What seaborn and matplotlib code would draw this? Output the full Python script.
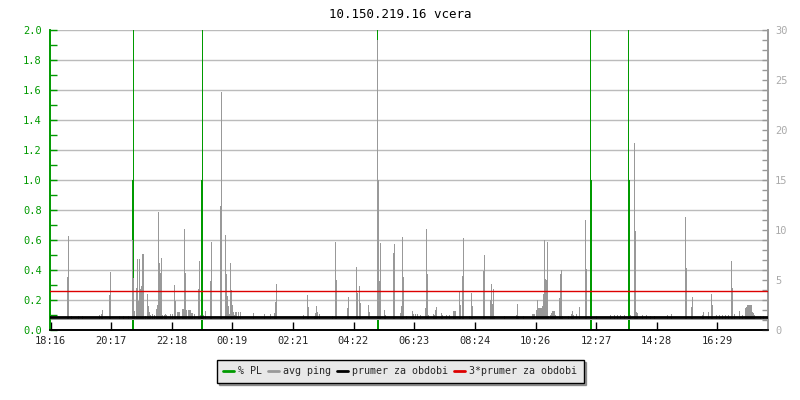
import numpy as np
import seaborn as sns
import matplotlib.pyplot as plt
from matplotlib.lines import Line2D
from matplotlib.ticker import MultipleLocator

# --- data (one sample every 2 minutes, starting 18:16) ---
TITLE = '10.150.219.16 vcera'
N_SAMPLES = 718
STEP_MIN = 2
BASE_MS = 1.15          # quiet ping level
FLOOR_MS = 1.0          # lowest ping seen (bars start here)
MEAN_MS = 1.29          # prumer za obdobi

TICK_MIN = [0, 121, 242, 363, 485, 606, 727, 848, 970, 1091, 1212, 1333]
TICK_LABELS = ['18:16', '20:17', '22:18', '00:19', '02:21', '04:22',
               '06:23', '08:24', '10:26', '12:27', '14:28', '16:29']

# packet loss samples (%)
PL_IDX = [82, 83, 151, 152, 327, 328, 540, 541, 578, 579]
PL_VAL = [1.0, 3.0, 1.0, 3.0, 3.0, 1.0, 3.0, 1.0, 3.0, 1.0]

# ping samples above the quiet level (ms)
SPIKE_IDX = [17, 18, 21, 28, 32, 49, 51, 52, 59, 60, 69, 73, 78, 82, 83, 84, 86, 87, 88, 89,
             90, 91, 92, 93, 95, 97, 98, 99, 100, 102, 104, 106, 107, 108, 109, 110, 111, 112, 114, 115,
             116, 120, 122, 124, 125, 127, 128, 129, 132, 133, 134, 135, 136, 138, 139, 140, 141, 142, 144, 148,
             149, 150, 153, 155, 160, 161, 170, 171, 175, 176, 177, 178, 179, 180, 181, 182, 183, 184, 185, 186,
             188, 190, 203, 214, 220, 224, 225, 226, 253, 257, 258, 264, 265, 266, 267, 269, 282, 285, 286, 297,
             298, 306, 307, 309, 310, 318, 319, 327, 328, 329, 330, 334, 335, 343, 344, 350, 351, 352, 353, 356,
             362, 363, 365, 367, 370, 375, 376, 377, 378, 383, 384, 385, 386, 391, 392, 396, 399, 403, 404, 405,
             409, 410, 412, 413, 419, 421, 422, 433, 434, 440, 441, 442, 443, 444, 454, 466, 467, 468, 473, 482,
             483, 484, 486, 487, 488, 489, 490, 491, 492, 493, 494, 495, 496, 497, 498, 500, 501, 502, 503, 504,
             505, 509, 510, 511, 512, 518, 521, 522, 523, 526, 529, 535, 536, 546, 560, 564, 567, 570, 574, 580,
             584, 585, 586, 587, 592, 596, 600, 604, 617, 621, 635, 636, 641, 642, 652, 653, 658, 661, 662, 666,
             669, 672, 675, 678, 681, 682, 684, 689, 692, 695, 696, 697, 698, 699, 700, 701, 702, 703, 704, 710,
             713]
SPIKE_MS = [5.3, 9.4, 1.4, 1.4, 1.4, 1.5, 1.6, 2.0, 3.5, 5.8, 1.4, 1.4, 1.4, 9.0, 5.2, 1.9, 4.2, 7.1, 2.9, 7.1,
            4.1, 4.4, 7.6, 7.6, 1.4, 3.6, 2.4, 1.8, 1.5, 1.6, 1.5, 2.1, 2.5, 11.8, 6.7, 5.7, 7.2, 1.5, 1.5, 1.6,
            1.5, 1.6, 1.6, 4.5, 2.9, 1.8, 1.8, 1.8, 2.1, 2.1, 10.1, 5.7, 2.0, 2.0, 2.0, 2.0, 1.7, 1.7, 1.6, 4.1,
            6.9, 1.5, 1.5, 1.9, 4.9, 8.8, 12.4, 23.8, 9.5, 5.6, 3.4, 2.4, 1.6, 6.7, 4.0, 2.5, 1.8, 1.5, 1.8, 1.8,
            1.8, 1.8, 1.7, 1.6, 1.6, 1.7, 2.8, 4.6, 1.5, 3.5, 2.3, 1.4, 1.7, 2.4, 1.8, 1.6, 1.4, 8.8, 5.0, 2.2,
            3.3, 6.3, 3.7, 4.4, 2.7, 2.5, 1.8, 29.0, 15.0, 4.9, 8.7, 2.0, 1.5, 7.7, 8.6, 1.7, 2.4, 9.3, 5.3, 1.4,
            1.9, 1.6, 1.6, 1.6, 1.5, 2.2, 10.1, 5.6, 1.5, 1.6, 1.5, 2.0, 2.3, 1.7, 1.5, 1.5, 1.5, 1.9, 1.9, 1.9,
            3.8, 2.5, 5.4, 9.2, 1.4, 3.7, 2.4, 5.9, 7.5, 3.0, 4.6, 2.6, 4.1, 1.4, 1.4, 1.5, 2.6, 1.4, 1.4, 1.6,
            1.6, 1.6, 2.0, 3.0, 2.2, 2.2, 2.2, 2.2, 2.4, 3.6, 9.0, 5.1, 5.0, 8.8, 1.4, 1.5, 1.7, 1.9, 1.9, 1.9,
            1.5, 3.2, 5.6, 6.0, 1.4, 1.4, 1.6, 1.9, 1.5, 1.6, 2.3, 11.0, 6.1, 1.4, 1.5, 1.5, 1.5, 1.5, 1.5, 1.5,
            18.7, 9.9, 1.8, 1.7, 1.5, 1.5, 1.4, 1.4, 1.5, 1.6, 11.3, 6.2, 2.3, 3.3, 1.5, 1.8, 1.8, 3.6, 2.5, 1.5,
            1.5, 1.5, 1.5, 1.5, 6.9, 4.2, 1.6, 1.9, 1.5, 2.2, 2.3, 2.5, 2.5, 2.5, 2.5, 2.5, 1.8, 1.7, 1.5, 1.4,
            1.4]

GREEN = '#009a00'
GREY = '#999999'
RED = '#dd0000'

# --- build series ---
t_min = np.arange(N_SAMPLES) * STEP_MIN
ping = np.full(N_SAMPLES, BASE_MS)
ping[SPIKE_IDX] = SPIKE_MS
pl = np.zeros(N_SAMPLES)
pl[PL_IDX] = PL_VAL

sns.set_theme(style='white')
plt.rcParams['font.family'] = ['DejaVu Sans Mono', 'DejaVu Sans']

fig = plt.figure(figsize=(8, 4), dpi=100)
ax = fig.add_axes([50 / 800, 70 / 400, 718 / 800, 300 / 400])
ax2 = ax.twinx()

# packet loss (left axis)
ax.bar(t_min, pl, width=STEP_MIN, color=GREEN, linewidth=0, align='center', antialiased=False)
ax.set_ylim(0, 2.0)
ax.set_xlim(-1, N_SAMPLES * STEP_MIN - 1)
ax.yaxis.set_major_locator(MultipleLocator(0.2))
ax.yaxis.set_minor_locator(MultipleLocator(0.1))
ax.yaxis.set_major_formatter(plt.FuncFormatter(lambda v, p: f'{v:.1f}'))
ax.grid(axis='y', which='major', color='#bbbbbb', linewidth=1)
ax.set_axisbelow(True)
ax.tick_params(axis='y', which='both', direction='in', length=5, width=1,
               color=GREEN, labelcolor=GREEN, labelsize=7.5, left=True, pad=6)
ax.set_xticks(TICK_MIN)
ax.set_xticklabels(TICK_LABELS)
ax.tick_params(axis='x', direction='in', length=6, width=1, color='black',
               labelsize=7.5, bottom=True, pad=4)

# ping (right axis)
ax2.bar(t_min, ping - FLOOR_MS, bottom=FLOOR_MS, width=STEP_MIN, color=GREY,
        linewidth=0, align='center', antialiased=False)
ax2.axhline(MEAN_MS, color='black', linewidth=2, zorder=5)
ax2.axhline(3 * MEAN_MS, color=RED, linewidth=1, zorder=5)
ax2.set_ylim(0, 30)
ax2.yaxis.set_major_locator(MultipleLocator(5))
ax2.yaxis.set_minor_locator(MultipleLocator(1))
ax2.tick_params(axis='y', which='both', direction='in', length=4, width=1,
                color=GREY, labelcolor='#aaaaaa', labelsize=7.5, right=True, pad=5)

for a in (ax, ax2):
    a.spines['top'].set_visible(False)
    a.spines['left'].set_color(GREEN)
    a.spines['left'].set_linewidth(1.2)
    a.spines['right'].set_color(GREY)
    a.spines['bottom'].set_color('black')
    a.spines['bottom'].set_linewidth(1.2)

fig.text(0.5, 1 - 14 / 400, TITLE, ha='center', va='center', fontsize=9, color='black')

handles = [Line2D([], [], color=GREEN, lw=2),
           Line2D([], [], color=GREY, lw=2),
           Line2D([], [], color='black', lw=2),
           Line2D([], [], color=RED, lw=2)]
labels = ['% PL', 'avg ping', 'prumer za obdobi', '3*prumer za obdobi']
leg = fig.legend(handles, labels, loc='center', bbox_to_anchor=(0.5, 1 - 371 / 400),
                 ncol=4, fontsize=7.2, handlelength=1.1, handletextpad=0.4,
                 columnspacing=0.6, frameon=True, fancybox=False, shadow=True,
                 borderpad=0.65, borderaxespad=0)
frame = leg.get_frame()
frame.set_facecolor('#e8e8e8')
frame.set_edgecolor('black')
frame.set_linewidth(1)
frame.set_alpha(1)

fig.savefig('out.png', dpi=100)
